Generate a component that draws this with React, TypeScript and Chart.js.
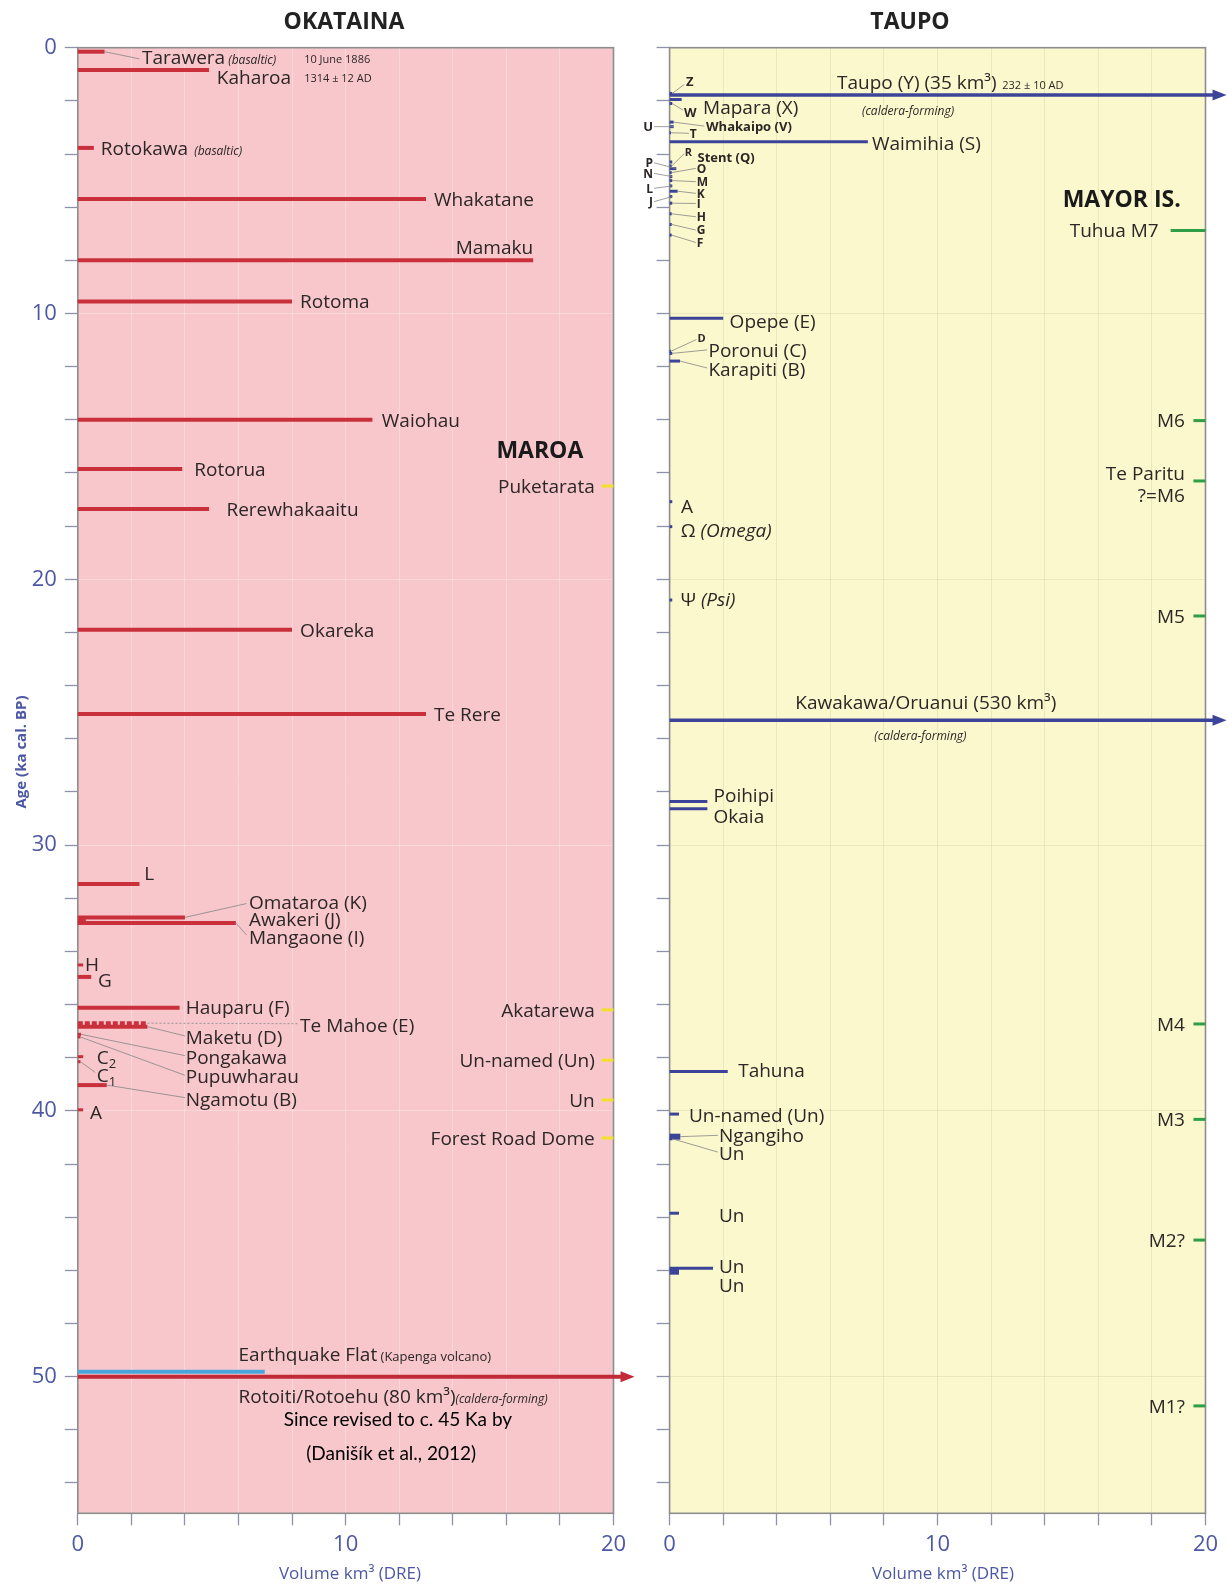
import React, { useEffect, useRef } from 'react';
import { Chart, registerables } from 'chart.js';

Chart.register(...registerables);

// ---------------- DATA ----------------
const yTickValues = [0, 10, 20, 30, 40, 50];
const xTickValues = [0, 10, 20];

// Okataina eruptions (age ka cal. BP, volume km3 DRE)
const okatainaNames = ['Tarawera', 'Kaharoa', 'Rotokawa', 'Whakatane', 'Mamaku', 'Rotoma', 'Waiohau', 'Rotorua', 'Rerewhakaaitu', 'Okareka', 'Te Rere', 'L', 'Omataroa (K)', 'Awakeri (J)', 'Mangaone (I)', 'H', 'G', 'Hauparu (F)', 'Te Mahoe (E)', 'Maketu (D)', 'Pongakawa', 'Pupuwharau', 'C2', 'C1', 'Ngamotu (B)', 'A', 'Rotoiti/Rotoehu'];
const okatainaAges = [0.15, 0.84, 3.77, 5.69, 8.0, 9.55, 14.0, 15.85, 17.36, 21.9, 25.07, 31.46, 32.72, 32.85, 32.93, 34.51, 34.96, 36.12, 36.7, 36.83, 37.12, 37.22, 37.96, 38.15, 39.03, 39.96, 50.0];
const okatainaVolumes = [1.0, 4.9, 0.6, 13.0, 17.0, 8.0, 11.0, 3.9, 4.9, 8.0, 13.0, 2.3, 4.0, 0.3, 5.9, 0.2, 0.5, 3.8, 2.6, 2.6, 0.12, 0.1, 0.2, 0.1, 1.08, 0.2, 80];

const earthquakeFlatName = 'Earthquake Flat';
const earthquakeFlatAge = 49.81;
const earthquakeFlatVolume = 6.98;

// Maroa
const maroaNames = ['Puketarata', 'Akatarewa', 'Un-named (Un)', 'Un', 'Forest Road Dome'];
const maroaAges = [16.49, 36.2, 38.09, 39.59, 41.02];

// Taupo eruptions
const taupoNames = ['Z', 'Taupo (Y)', 'Mapara (X)', 'W', 'Whakaipo (V)', 'U', 'T', 'Waimihia (S)', 'R', 'Stent (Q)', 'P', 'O', 'N', 'M', 'L', 'K', 'J', 'I', 'H', 'G', 'F', 'Opepe (E)', 'D', 'Poronui (C)', 'Karapiti (B)', 'A', 'Ω (Omega)', 'Ψ (Psi)', 'Kawakawa/Oruanui', 'Poihipi', 'Okaia', 'Tahuna', 'Un-named (Un)', 'Ngangiho', 'Un', 'Un', 'Un', 'Un'];
const taupoAges = [1.72, 1.78, 1.95, 2.1, 2.8, 2.97, 3.2, 3.54, 4.45, 4.3, 4.55, 4.7, 4.85, 5.0, 5.2, 5.4, 5.6, 5.85, 6.25, 6.65, 7.05, 10.18, 11.42, 11.5, 11.79, 17.08, 18.02, 20.78, 25.3, 28.36, 28.63, 38.52, 40.12, 40.97, 41.05, 43.85, 45.92, 46.05];
const taupoVolumes = [0.1, 35, 0.45, 0.1, 0.15, 0.15, 0.05, 7.4, 0.08, 0.1, 0.25, 0.08, 0.1, 0.1, 0.1, 0.3, 0.1, 0.1, 0.08, 0.08, 0.08, 2.0, 0.05, 0.1, 0.39, 0.1, 0.1, 0.1, 530, 1.41, 1.41, 2.17, 0.35, 0.4, 0.1, 0.35, 1.62, 0.35];

// Mayor Island
const mayorNames = ['Tuhua M7', 'M6', 'Te Paritu ?=M6', 'M5', 'M4', 'M3', 'M2?', 'M1?'];
const mayorAges = [6.88, 14.03, 16.3, 21.38, 36.73, 40.32, 44.86, 51.1];

// ---------------- STYLE / LAYOUT ----------------
const FONT = '"Open Sans", "DejaVu Sans", sans-serif';
const LATO = 'Lato, "Open Sans", sans-serif';
const AXIS_BLUE = '#4d58a3';
const TICK = '#8e91a8';
const TEXT = '#2c2626';
const RED = '#c9303b';
const BLUE = '#3b4499';
const LIGHT_BLUE = '#4aa6da';
const GREEN = '#2f9e47';
const YELLOW = '#f1e02e';
const S = 19;
const ARROW_END = 20.3; // where the arrow shaft ends (x units) for off-scale volumes
const EDGE_TICK_START = 19.55;
const TUHUA_TICK_START = 18.7;
const Y_MAX = 55.14;

type Part = { t: string; size?: number; bold?: boolean; italic?: boolean; dy?: number; family?: string };
type Label = { x: number; y: number; align?: 'left' | 'right' | 'center'; parts: Part[]; color?: string };
type Leader = { i: number; x2: number; y2: number; dash?: number[] };
type PixText = { t: string; x: number; y: number; size: number; bold?: boolean; color: string; rotate?: boolean };

const lab = (x: number, y: number, t: string, extra: Partial<Label> = {}, part: Partial<Part> = {}): Label => ({
  x, y, parts: [{ t, ...part }], ...extra,
});

// Okataina labels
const okaLabels: Label[] = [
  { x: 2.4, y: 0.36, parts: [{ t: 'Tarawera' }, { t: ' (basaltic)', size: 12, italic: true }] },
  lab(8.45, 0.42, '10 June 1886', {}, { size: 11 }),
  lab(7.96, 1.12, 'Kaharoa', { align: 'right' }),
  lab(8.45, 1.15, '1314 ± 12 AD', {}, { size: 11 }),
  { x: 0.86, y: 3.79, parts: [{ t: 'Rotokawa' }, { t: '  (basaltic)', size: 12, italic: true }] },
  lab(13.3, 5.69, 'Whakatane'),
  lab(17.0, 7.5, 'Mamaku', { align: 'right' }),
  lab(8.3, 9.55, 'Rotoma'),
  lab(11.35, 14.0, 'Waiohau'),
  lab(4.35, 15.85, 'Rotorua'),
  lab(5.55, 17.35, 'Rerewhakaaitu'),
  lab(8.3, 21.9, 'Okareka'),
  lab(13.3, 25.07, 'Te Rere'),
  lab(2.48, 31.05, 'L'),
  lab(6.39, 32.13, 'Omataroa (K)'),
  lab(6.39, 32.78, 'Awakeri (J)'),
  lab(6.39, 33.45, 'Mangaone (I)'),
  lab(0.27, 34.47, 'H'),
  lab(0.75, 35.08, 'G'),
  lab(4.03, 36.08, 'Hauparu (F)'),
  lab(8.3, 36.77, 'Te Mahoe (E)'),
  lab(4.03, 37.22, 'Maketu (D)'),
  lab(4.03, 37.96, 'Pongakawa'),
  lab(4.03, 38.71, 'Pupuwharau'),
  { x: 0.71, y: 37.98, parts: [{ t: 'C' }, { t: '2', size: 13, dy: 4 }] },
  { x: 0.71, y: 38.65, parts: [{ t: 'C' }, { t: '1', size: 13, dy: 4 }] },
  lab(4.03, 39.55, 'Ngamotu (B)'),
  lab(0.46, 40.03, 'A'),
  lab(17.25, 15.13, 'MAROA', { align: 'center', color: '#1a1a1a' }, { size: 23, bold: true }),
  ...maroaNames.map((n, i) => lab(19.3, maroaAges[i], n, { align: 'right' })),
  { x: 6.0, y: 49.15, parts: [{ t: earthquakeFlatName }, { t: ' (Kapenga volcano)', size: 13 }] },
  { x: 6.0, y: 50.72, parts: [{ t: `${okatainaNames[26]} (${okatainaVolumes[26]} km³)` }, { t: '(caldera-forming)', size: 12, italic: true }] },
  lab(11.95, 51.58, 'Since revised to c. 45 Ka by', { align: 'center', color: '#000' }, { size: 19, family: LATO }),
  lab(11.7, 52.88, '(Danišík et al., 2012)', { align: 'center', color: '#000' }, { size: 19, family: LATO }),
];

const okaLeaders: Leader[] = [
  { i: 0, x2: 2.3, y2: 0.42 },
  { i: 12, x2: 6.3, y2: 32.2 },
  { i: 14, x2: 6.3, y2: 33.38 },
  { i: 18, x2: 8.2, y2: 36.72, dash: [2, 2] },
  { i: 19, x2: 4.0, y2: 37.18 },
  { i: 20, x2: 4.0, y2: 37.92 },
  { i: 21, x2: 4.0, y2: 38.66 },
  { i: 23, x2: 0.65, y2: 38.55 },
  { i: 24, x2: 4.0, y2: 39.5 },
];

const letter = (x: number, y: number, t: string, align: 'left' | 'right' = 'left', size = 12) =>
  lab(x, y, t, { align }, { size, bold: true });

const taupoLabels: Label[] = [
  letter(0.61, 1.28, 'Z', 'left', 13),
  { x: 6.25, y: 1.28, parts: [{ t: `Taupo (Y) (${taupoVolumes[1]} km³)` }, { t: '  232 ± 10 AD', size: 11 }] },
  lab(7.18, 2.36, '(caldera-forming)', {}, { size: 12, italic: true }),
  letter(0.54, 2.42, 'W', 'left', 13),
  lab(1.25, 2.24, 'Mapara (X)'),
  letter(-0.62, 2.97, 'U', 'right', 13),
  lab(1.36, 2.97, 'Whakaipo (V)', {}, { size: 13, bold: true }),
  letter(0.75, 3.22, 'T'),
  lab(7.55, 3.6, 'Waimihia (S)'),
  letter(0.57, 3.92, 'R', 'left', 11),
  lab(1.04, 4.12, 'Stent (Q)', {}, { size: 13, bold: true }),
  letter(-0.62, 4.33, 'P', 'right'),
  letter(-0.62, 4.73, 'N', 'right'),
  letter(-0.62, 5.29, 'L', 'right'),
  letter(-0.62, 5.79, 'J', 'right'),
  letter(1.01, 4.54, 'O'),
  letter(1.01, 5.04, 'M'),
  letter(1.01, 5.48, 'K'),
  letter(1.01, 5.86, 'I'),
  letter(1.01, 6.36, 'H'),
  letter(1.01, 6.86, 'G'),
  letter(1.01, 7.33, 'F'),
  lab(2.24, 10.28, 'Opepe (E)'),
  letter(1.04, 10.93, 'D', 'left', 11),
  lab(1.45, 11.37, 'Poronui (C)'),
  lab(1.45, 12.1, 'Karapiti (B)'),
  lab(0.43, 17.24, 'A'),
  { x: 0.42, y: 18.15, parts: [{ t: 'Ω' }, { t: ' (Omega)', italic: true }] },
  { x: 0.42, y: 20.75, parts: [{ t: 'Ψ' }, { t: ' (Psi)', italic: true }] },
  lab(4.69, 24.63, `${taupoNames[28]} (${taupoVolumes[28]} km³)`),
  lab(7.64, 25.89, '(caldera-forming)', {}, { size: 12, italic: true }),
  lab(1.64, 28.13, 'Poihipi'),
  lab(1.64, 28.93, 'Okaia'),
  lab(2.56, 38.46, 'Tahuna'),
  lab(0.72, 40.15, 'Un-named (Un)'),
  lab(1.84, 40.9, 'Ngangiho'),
  lab(1.84, 41.6, 'Un'),
  lab(1.84, 43.92, 'Un'),
  lab(1.84, 45.86, 'Un'),
  lab(1.84, 46.55, 'Un'),
  lab(19.08, 5.67, 'MAYOR IS.', { align: 'right', color: '#1a1a1a' }, { size: 23, bold: true }),
  ...mayorNames.flatMap((n, i) => {
    const endX = i === 0 ? 18.25 : 19.23;
    if (n.includes(' ?=')) {
      const w = n.split(' ');
      return [lab(endX, mayorAges[i] - 0.3, w[0] + ' ' + w[1], { align: 'right' }), lab(endX, mayorAges[i] + 0.53, w[2], { align: 'right' })];
    }
    return [lab(endX, mayorAges[i], n, { align: 'right' })];
  }),
];

const taupoLeaders: Leader[] = [
  { i: 0, x2: 0.55, y2: 1.38 },
  { i: 3, x2: 0.5, y2: 2.35 },
  { i: 4, x2: 1.3, y2: 2.95 },
  { i: 5, x2: -0.58, y2: 2.97 },
  { i: 6, x2: 0.72, y2: 3.22 },
  { i: 8, x2: 0.55, y2: 3.98 },
  { i: 10, x2: -0.58, y2: 4.33 },
  { i: 11, x2: 0.98, y2: 4.54 },
  { i: 12, x2: -0.58, y2: 4.73 },
  { i: 13, x2: 0.98, y2: 5.04 },
  { i: 14, x2: -0.58, y2: 5.29 },
  { i: 15, x2: 0.98, y2: 5.48 },
  { i: 16, x2: -0.58, y2: 5.79 },
  { i: 17, x2: 0.98, y2: 5.86 },
  { i: 18, x2: 0.98, y2: 6.36 },
  { i: 19, x2: 0.98, y2: 6.86 },
  { i: 20, x2: 0.98, y2: 7.33 },
  { i: 22, x2: 1.0, y2: 10.98 },
  { i: 23, x2: 1.4, y2: 11.37 },
  { i: 24, x2: 1.4, y2: 12.05 },
  { i: 33, x2: 1.8, y2: 40.92 },
  { i: 34, x2: 1.8, y2: 41.55 },
];

const leftTexts: PixText[] = [
  { t: 'OKATAINA', x: 344, y: 22.5, size: 23, bold: true, color: '#222' },
  { t: 'Age (ka cal. BP)', x: 22, y: 752, size: 15, bold: true, color: AXIS_BLUE, rotate: true },
  { t: 'Volume km³ (DRE)', x: 350, y: 1574, size: 17, color: AXIS_BLUE },
];
const rightTexts: PixText[] = [
  { t: 'TAUPO', x: 270, y: 22.5, size: 23, bold: true, color: '#222' },
  { t: 'Volume km³ (DRE)', x: 303, y: 1574, size: 17, color: AXIS_BLUE },
];

// ---------------- HELPERS ----------------
const common = {
  showLine: true,
  pointRadius: 0,
  pointHoverRadius: 0,
  clip: false,
  fill: false,
  tension: 0,
  borderCapStyle: 'butt',
};

function bar(label: string, x0: number, x1: number, y: number, color: string, width: number, extra: any = {}) {
  return {
    label,
    data: [{ x: x0, y }, { x: x1, y }],
    borderColor: color,
    backgroundColor: color,
    borderWidth: width,
    ...common,
    ...extra,
  };
}

function leftDatasets() {
  const ds: any[] = [];
  okatainaNames.forEach((n, i) => {
    const v = okatainaVolumes[i];
    const arrow = v > 20;
    const extra: any = { arrowHead: arrow };
    if (n.startsWith('Te Mahoe')) extra.borderDash = [5, 2];
    ds.push(bar(n, 0, arrow ? ARROW_END : v, okatainaAges[i], arrow ? '#c22a38' : RED, v < 0.3 ? 3 : 4, extra));
  });
  ds.push(bar(earthquakeFlatName, 0, earthquakeFlatVolume, earthquakeFlatAge, LIGHT_BLUE, 4));
  maroaNames.forEach((n, i) => ds.push(bar(n, EDGE_TICK_START, 20, maroaAges[i], YELLOW, 3)));
  return ds;
}

function rightDatasets() {
  const ds: any[] = [];
  taupoNames.forEach((n, i) => {
    const v = taupoVolumes[i];
    const arrow = v > 20;
    const thick = i === 33 || i === 37;
    ds.push(bar(n, 0, arrow ? ARROW_END : v, taupoAges[i], BLUE, thick ? 6 : arrow ? 3.5 : 3, { arrowHead: arrow }));
  });
  mayorNames.forEach((n, i) => ds.push(bar(n, i === 0 ? TUHUA_TICK_START : EDGE_TICK_START, 20, mayorAges[i], GREEN, 3)));
  return ds;
}

function fontStr(p: Part) {
  return `${p.italic ? 'italic ' : ''}${p.bold ? 'bold ' : ''}${p.size ?? S}px ${p.family ?? FONT}`;
}

function decorPlugin(cfg: { bg: string; labels: Label[]; leaders: Leader[]; texts: PixText[]; ages: number[]; vols: number[] }) {
  return {
    id: 'decor',
    beforeDraw(chart: any) {
      const { ctx, chartArea: a } = chart;
      ctx.save();
      ctx.fillStyle = cfg.bg;
      ctx.fillRect(a.left, a.top, a.right - a.left, a.bottom - a.top);
      ctx.restore();
    },
    beforeDatasetsDraw(chart: any) {
      const { ctx, chartArea: a } = chart;
      ctx.save();
      ctx.strokeStyle = '#8d8d8d';
      ctx.lineWidth = 1.6;
      ctx.strokeRect(a.left, a.top, a.right - a.left, a.bottom - a.top);
      ctx.restore();
    },
    afterDatasetsDraw(chart: any) {
      const { ctx } = chart;
      const xs = chart.scales.x;
      const ys = chart.scales.y;
      ctx.save();
      // arrow heads
      chart.data.datasets.forEach((d: any, i: number) => {
        if (!d.arrowHead) return;
        const meta = chart.getDatasetMeta(i);
        const p = meta.data[meta.data.length - 1];
        ctx.fillStyle = d.borderColor;
        ctx.beginPath();
        ctx.moveTo(p.x - 1, p.y - 5.5);
        ctx.lineTo(p.x + 13, p.y);
        ctx.lineTo(p.x - 1, p.y + 5.5);
        ctx.closePath();
        ctx.fill();
      });
      // leader lines
      ctx.strokeStyle = '#858585';
      ctx.lineWidth = 0.8;
      cfg.leaders.forEach((l) => {
        const v = Math.min(cfg.vols[l.i], ARROW_END);
        ctx.setLineDash(l.dash ?? []);
        ctx.beginPath();
        ctx.moveTo(xs.getPixelForValue(v), ys.getPixelForValue(cfg.ages[l.i]));
        ctx.lineTo(xs.getPixelForValue(l.x2), ys.getPixelForValue(l.y2));
        ctx.stroke();
      });
      ctx.setLineDash([]);
      // labels
      ctx.textAlign = 'left';
      ctx.textBaseline = 'alphabetic';
      cfg.labels.forEach((lb) => {
        const px = xs.getPixelForValue(lb.x);
        const py = ys.getPixelForValue(lb.y);
        const widths = lb.parts.map((p) => {
          ctx.font = fontStr(p);
          return ctx.measureText(p.t).width;
        });
        const total = widths.reduce((a, b) => a + b, 0);
        let x = lb.align === 'right' ? px - total : lb.align === 'center' ? px - total / 2 : px;
        const base = py + (lb.parts[0].size ?? S) * 0.36;
        ctx.fillStyle = lb.color ?? TEXT;
        lb.parts.forEach((p, k) => {
          ctx.font = fontStr(p);
          ctx.fillText(p.t, x, base + (p.dy ?? 0));
          x += widths[k];
        });
      });
      // pixel texts (titles, axis titles)
      cfg.texts.forEach((t) => {
        ctx.save();
        ctx.font = `${t.bold ? 'bold ' : ''}${t.size}px ${FONT}`;
        ctx.fillStyle = t.color;
        ctx.textAlign = 'center';
        ctx.textBaseline = 'middle';
        ctx.translate(t.x, t.y);
        if (t.rotate) ctx.rotate(-Math.PI / 2);
        ctx.fillText(t.t, 0, 0);
        ctx.restore();
      });
      ctx.restore();
    },
  };
}

const isTick = (arr: number[], v: number) => arr.some((a) => Math.abs(a - v) < 1e-6);

function makeOptions(left: boolean): any {
  const faint = left ? 'rgba(255,255,255,0.3)' : 'rgba(170,170,120,0.2)';
  return {
    animation: false,
    responsive: false,
    maintainAspectRatio: false,
    events: [],
    layout: { padding: { left: 0, top: 47.7, right: left ? 26.5 : 22.5, bottom: 0 } },
    plugins: { legend: { display: false }, tooltip: { enabled: false }, title: { display: false } },
    scales: {
      x: {
        type: 'linear',
        min: 0,
        max: 20,
        position: 'bottom',
        afterFit: (s: any) => {
          s.height = 71.7;
        },
        border: { display: false },
        grid: { color: faint, tickColor: TICK, tickLength: 12, lineWidth: 1, tickWidth: 1.3 },
        ticks: {
          stepSize: 2,
          autoSkip: false,
          maxRotation: 0,
          padding: 6,
          color: AXIS_BLUE,
          font: { family: FONT, size: 22 },
          callback: (v: number) => (isTick(xTickValues, v) ? String(v) : ''),
        },
      },
      y: {
        type: 'linear',
        min: 0,
        max: Y_MAX,
        reverse: true,
        afterFit: (s: any) => {
          s.width = left ? 77.8 : 29.6;
        },
        border: { display: false },
        grid: {
          color: (c: any) => (c.tick && isTick(yTickValues, c.tick.value) ? faint : 'rgba(0,0,0,0)'),
          tickColor: TICK,
          tickLength: 13,
          tickWidth: 1.3,
        },
        ticks: {
          stepSize: 2,
          autoSkip: false,
          includeBounds: false,
          padding: 8,
          color: AXIS_BLUE,
          font: { family: FONT, size: 22 },
          callback: (v: number) => (left && isTick(yTickValues, v) ? String(v) : ''),
        },
      },
    },
  };
}

export default function App() {
  const leftRef = useRef<HTMLCanvasElement>(null);
  const rightRef = useRef<HTMLCanvasElement>(null);

  useEffect(() => {
    const c1 = new Chart(leftRef.current as HTMLCanvasElement, {
      type: 'scatter',
      data: { datasets: leftDatasets() },
      options: makeOptions(true),
      plugins: [
        decorPlugin({ bg: '#f7c7cc', labels: okaLabels, leaders: okaLeaders, texts: leftTexts, ages: okatainaAges, vols: okatainaVolumes }),
      ],
    } as any);
    const c2 = new Chart(rightRef.current as HTMLCanvasElement, {
      type: 'scatter',
      data: { datasets: rightDatasets() },
      options: makeOptions(false),
      plugins: [
        decorPlugin({ bg: '#fbf8cd', labels: taupoLabels, leaders: taupoLeaders, texts: rightTexts, ages: taupoAges, vols: taupoVolumes }),
      ],
    } as any);
    return () => {
      c1.destroy();
      c2.destroy();
    };
  }, []);

  return (
    <div style={{ position: 'absolute', left: 0, top: 0, width: 1228, height: 1585, background: '#fff' }}>
      <canvas ref={leftRef} width={640} height={1585} style={{ position: 'absolute', left: 0, top: 0, width: 640, height: 1585 }} />
      <canvas ref={rightRef} width={588} height={1585} style={{ position: 'absolute', left: 640, top: 0, width: 588, height: 1585 }} />
    </div>
  );
}
